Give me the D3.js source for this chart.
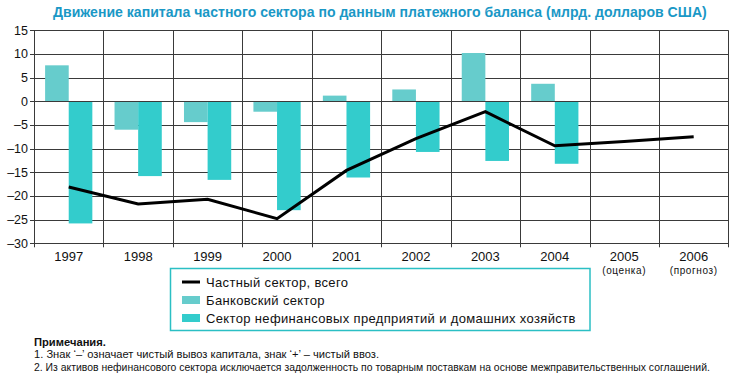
<!DOCTYPE html>
<html><head><meta charset="utf-8">
<script src="https://cdn.jsdelivr.net/npm/d3@7"></script>
<style>
body{margin:0;background:#fff;}
svg{display:block;}
</style></head>
<body><svg id="c" width="729" height="381"></svg>
<script>
const years = ['1997','1998','1999','2000','2001','2002','2003','2004','2005','2006'];
const subLabels = {'2005':'(оценка)','2006':'(прогноз)'};
const bank = [7.6,-6.0,-4.4,-2.2,1.2,2.5,10.2,3.7,null,null];
const nonfin = [-25.8,-15.8,-16.6,-23.0,-16.1,-10.7,-12.6,-13.2,null,null];
const total = [-18.1,-21.7,-20.7,-24.8,-14.6,-7.9,-2.2,-9.4,-8.5,-7.5];
const yTicks = [15,10,5,0,-5,-10,-15,-20,-25,-30];
const seriesNames = ['Частный сектор, всего','Банковский сектор','Сектор нефинансовых предприятий и домашних хозяйств'];
const title = 'Движение капитала частного сектора по данным платежного баланса (млрд. долларов США)';
const notes = ['Примечания.','1. Знак ‘–’ означает чистый вывоз капитала, знак ‘+’ – чистый ввоз.','2. Из активов нефинансового сектора исключается задолженность по товарным поставкам на основе межправительственных соглашений.'];

const cBank = '#66cccc', cNon = '#33cccc';
const svg = d3.select('#c');
const L = 34, R = 728.4, T = 30.3, B = 243.3;
const x = d3.scaleBand().domain(years).range([L, R]).padding(0);
const sub = d3.scaleBand().domain(['bank','non']).range([0, x.bandwidth()]).paddingInner(0).paddingOuter(0.47);
const y = d3.scaleLinear().domain([-30,15]).range([B, T]);

function fitText(txt, x0, y0, w, size, weight, color, family) {
  const t = svg.append('text').attr('x',0).attr('y',0)
    .attr('font-family',family).attr('font-weight',weight||'normal')
    .attr('font-size',size).attr('fill',color).text(txt);
  const nat = t.node().getComputedTextLength();
  const s = w / nat;
  t.attr('transform',`translate(${x0},${y0}) scale(${s},1)`);
  return t;
}
const sans = 'Liberation Sans, Arial, sans-serif';

// title
fitText(title, 53, 17, 654, 15.5, 'bold', '#1a98c6', sans);

// grid
const gc = '#3a3a3a';
svg.append('g').selectAll('line').data(yTicks).join('line')
  .attr('x1',30).attr('x2',R).attr('y1',d=>Math.round(y(d))+0.5).attr('y2',d=>Math.round(y(d))+0.5)
  .attr('stroke',gc).attr('stroke-width',1);
const bounds = years.map(d=>x(d)).concat([R]);
svg.append('g').selectAll('line').data(bounds).join('line')
  .attr('x1',d=>Math.round(d)+0.5).attr('x2',d=>Math.round(d)+0.5).attr('y1',T).attr('y2',B+4)
  .attr('stroke',gc).attr('stroke-width',1);

// y labels
svg.append('g').selectAll('text').data(yTicks).join('text')
  .attr('x',28).attr('y',d=>y(d)+4.5).attr('text-anchor','end')
  .attr('font-family',sans).attr('font-size',12.5).attr('fill','#111')
  .text(d=>d<0?'–'+Math.abs(d):d);

// bars
const g = svg.append('g');
g.selectAll('rect.b').data(years.map((d,i)=>({d,v:bank[i]})).filter(o=>o.v!=null)).join('rect')
  .attr('x',o=>x(o.d)+sub('bank')).attr('width',sub.bandwidth())
  .attr('y',o=>y(Math.max(0,o.v))).attr('height',o=>Math.abs(y(o.v)-y(0))).attr('fill',cBank);
g.selectAll('rect.n').data(years.map((d,i)=>({d,v:nonfin[i]})).filter(o=>o.v!=null)).join('rect')
  .attr('x',o=>x(o.d)+sub('non')).attr('width',sub.bandwidth())
  .attr('y',o=>y(Math.max(0,o.v))).attr('height',o=>Math.abs(y(o.v)-y(0))).attr('fill',cNon);

svg.append('line').attr('x1',30).attr('x2',R).attr('y1',Math.round(y(0))+0.5).attr('y2',Math.round(y(0))+0.5).attr('stroke',gc);

// total line
const line = d3.line().x((d,i)=>x(years[i])+x.bandwidth()/2).y(d=>y(d));
svg.append('path').attr('d',line(total)).attr('fill','none').attr('stroke','#000').attr('stroke-width',3).attr('stroke-linejoin','miter');

// x labels
svg.append('g').selectAll('text').data(years).join('text')
  .attr('x',d=>x(d)+x.bandwidth()/2).attr('y',261).attr('text-anchor','middle')
  .attr('font-family',sans).attr('font-size',13).attr('fill','#111').text(d=>d);
svg.append('g').selectAll('text').data(years.filter(d=>subLabels[d])).join('text')
  .attr('x',d=>x(d)+x.bandwidth()/2).attr('y',274).attr('text-anchor','middle')
  .attr('font-family',sans).attr('font-size',10).attr('letter-spacing',0.6).attr('fill','#111').text(d=>subLabels[d]);

// legend
svg.append('rect').attr('x',170.5).attr('y',268.5).attr('width',419.5).attr('height',62).attr('fill','#fff').attr('stroke','#2bbfc4').attr('stroke-width',1.5);
const ly = [282,300,318];
svg.append('line').attr('x1',182).attr('x2',200).attr('y1',ly[0]).attr('y2',ly[0]).attr('stroke','#000').attr('stroke-width',3);
svg.append('rect').attr('x',182).attr('y',ly[1]-4).attr('width',18).attr('height',8).attr('fill',cBank);
svg.append('rect').attr('x',182).attr('y',ly[2]-4).attr('width',18).attr('height',8).attr('fill',cNon);
svg.append('g').selectAll('text').data(seriesNames).join('text')
  .attr('x',206).attr('y',(d,i)=>ly[i]+4.5)
  .attr('font-family',sans).attr('font-size',13).attr('letter-spacing',0.35).attr('fill','#111').text(d=>d);

// notes
fitText(notes[0], 34, 345.5, 72, 11.5, 'bold', '#111', sans);
fitText(notes[1], 34, 358, 345, 10.8, 'normal', '#111', sans);
fitText(notes[2], 34, 370.5, 676, 10.8, 'normal', '#111', sans);
</script></body></html>
